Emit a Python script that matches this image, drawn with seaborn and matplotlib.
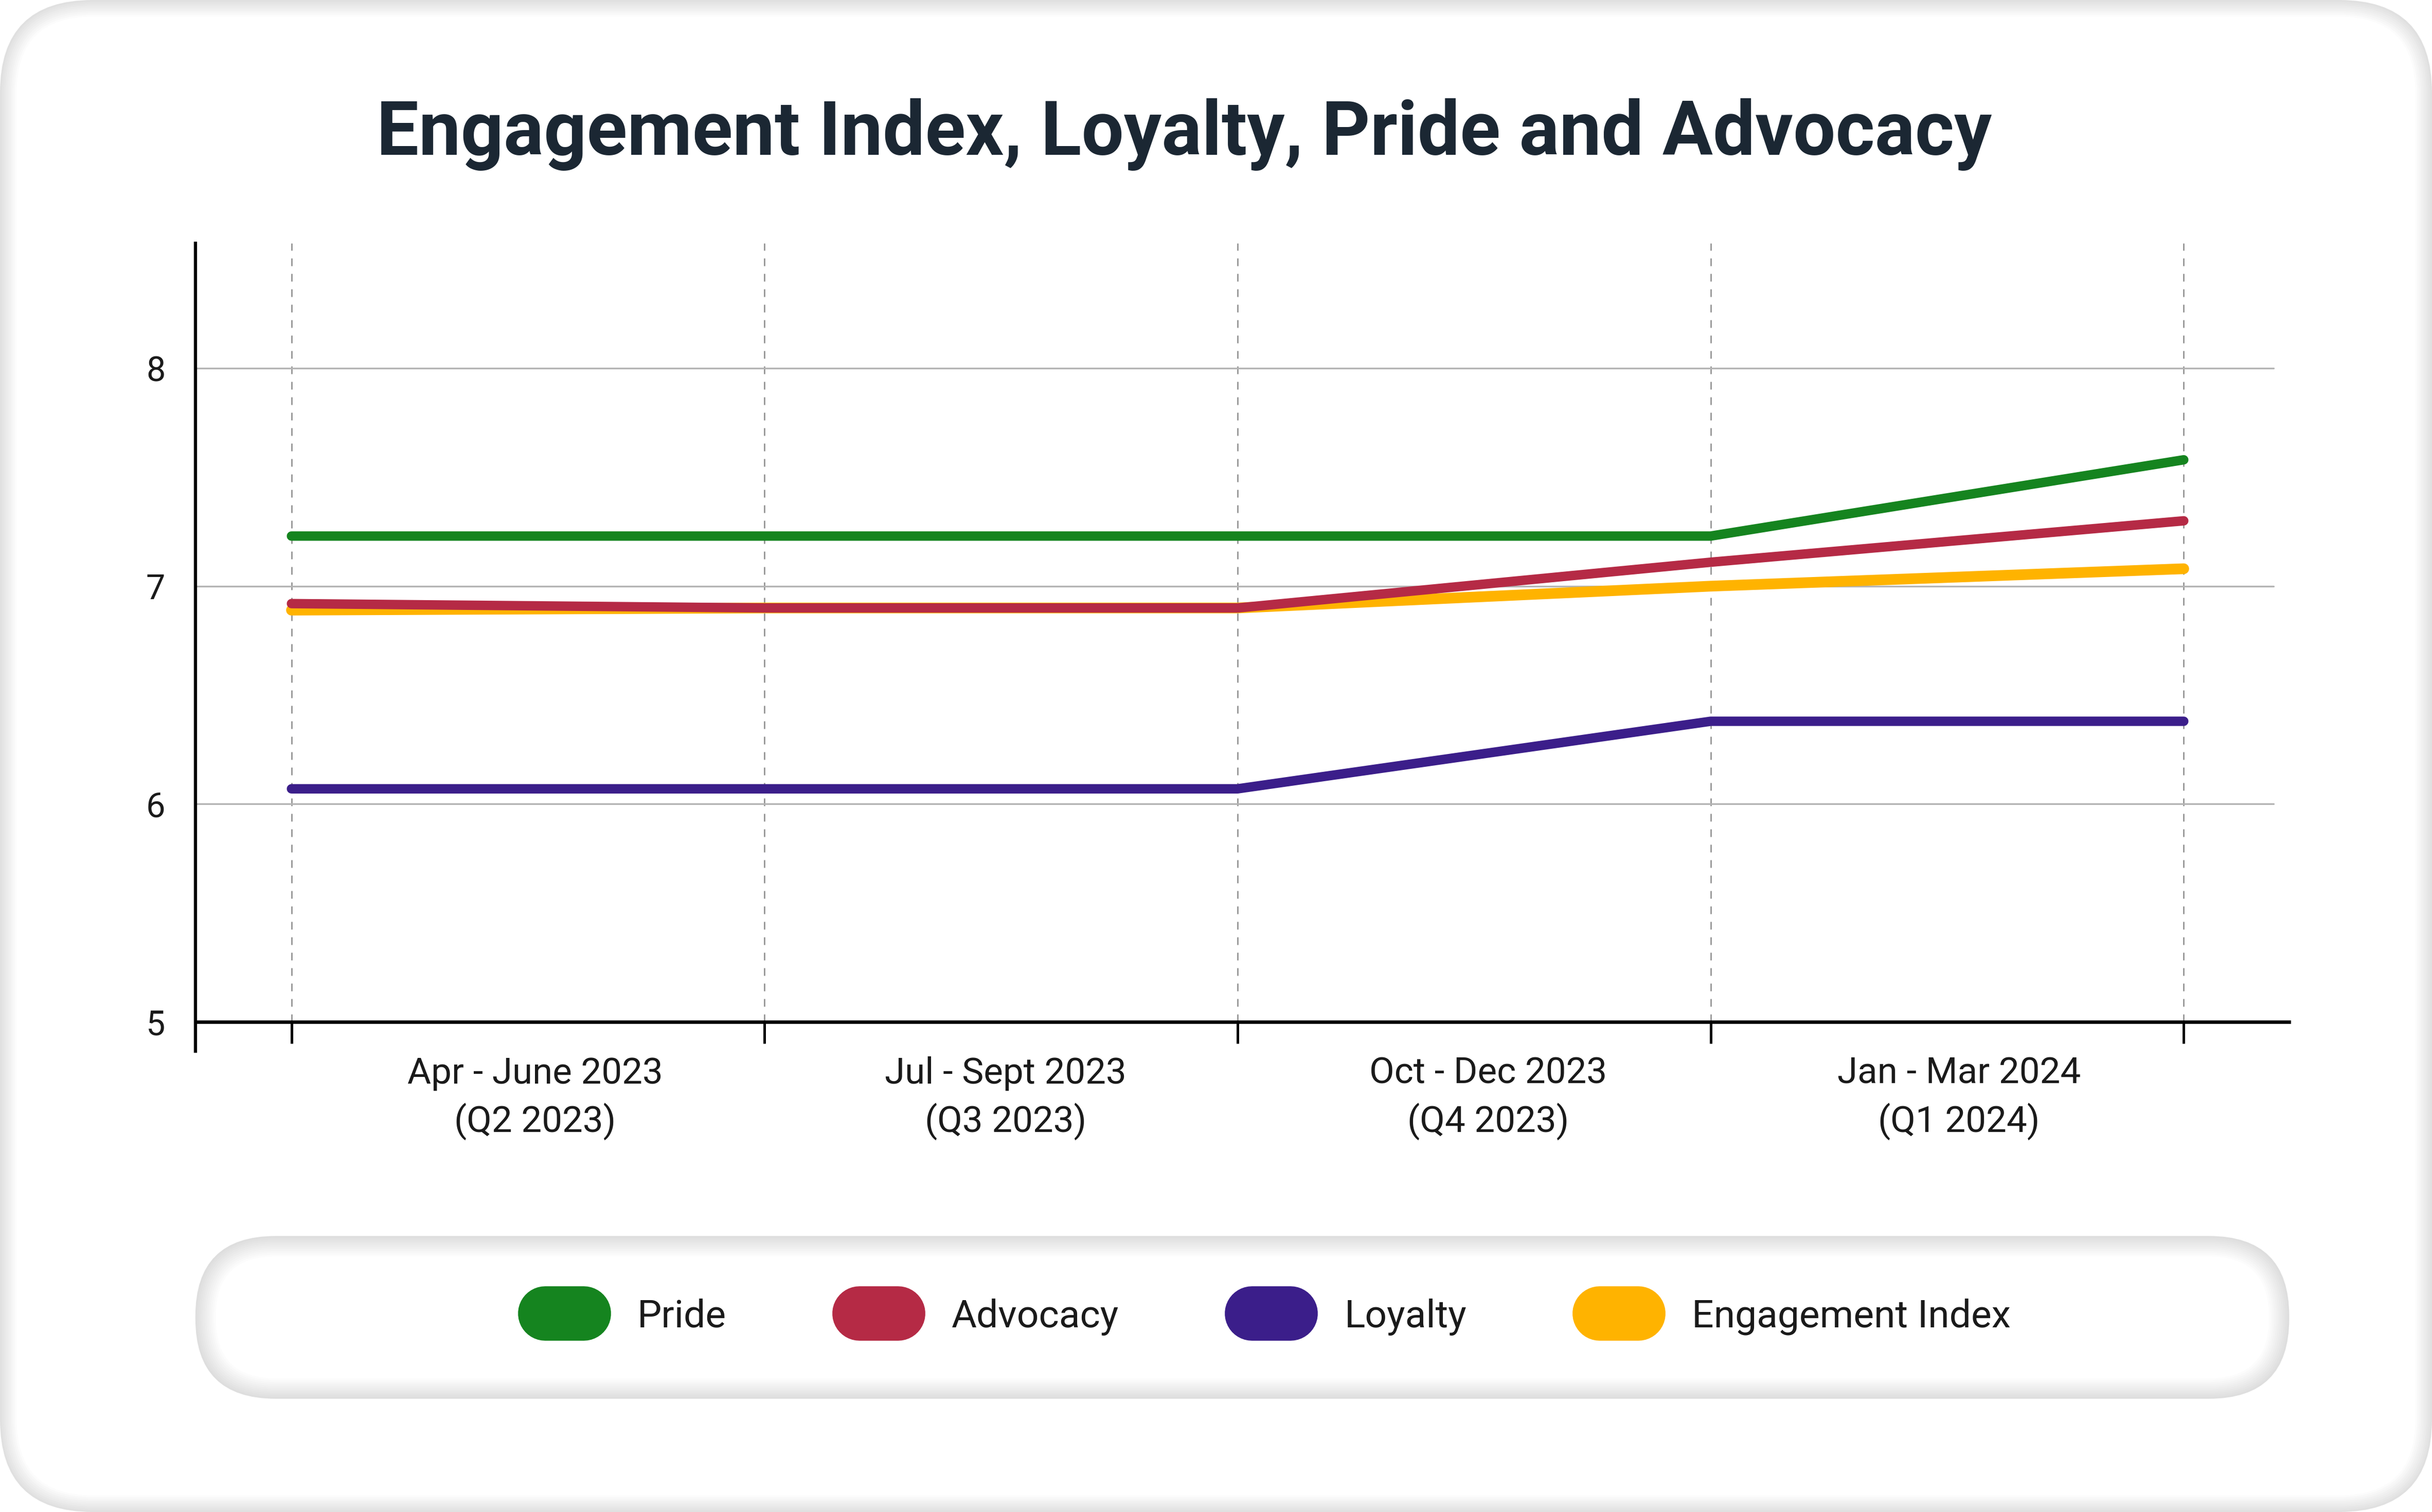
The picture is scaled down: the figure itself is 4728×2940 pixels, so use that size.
import numpy as np
import pandas as pd
import seaborn as sns
import matplotlib.pyplot as plt
from matplotlib.patches import FancyBboxPatch
from matplotlib.lines import Line2D

# data (5 points, labels sit between ticks)
points = [0, 1, 2, 3, 4]
quarter_labels = ["Apr - June 2023\n(Q2 2023)", "Jul - Sept 2023\n(Q3 2023)",
                  "Oct - Dec 2023\n(Q4 2023)", "Jan - Mar 2024\n(Q1 2024)"]
pride = [7.23, 7.23, 7.23, 7.23, 7.58]
advocacy = [6.92, 6.90, 6.90, 7.11, 7.30]
loyalty = [6.07, 6.07, 6.07, 6.38, 6.38]
engagement = [6.89, 6.90, 6.90, 7.00, 7.08]

series_names = ["Pride", "Advocacy", "Loyalty", "Engagement Index"]
series_colors = ["#15841f", "#b52a45", "#3b1e8a", "#ffb300"]
draw_order = ["Engagement Index", "Loyalty", "Advocacy", "Pride"]

df = pd.DataFrame({
    "point": points * 4,
    "score": pride + advocacy + loyalty + engagement,
    "series": sum([[n] * len(points) for n in series_names], []),
})
palette = dict(zip(series_names, series_colors))

sns.set_style("white")
plt.rcParams["font.family"] = ["Roboto", "DejaVu Sans"]

W, H = 15.76, 9.8
fig = plt.figure(figsize=(W, H), dpi=300, facecolor="white")


def soft_box(x0, y0, w, h, r, edge, steps, step, z):
    # rounded box with a soft grey rim fading to white
    for i, c in enumerate(np.linspace(0, 1, steps)):
        g = edge + (1 - edge) * c
        d = i * step
        fig.patches.append(FancyBboxPatch(
            (x0 + d, y0 + d), w - 2 * d, h - 2 * d,
            boxstyle=f"round,pad=0,rounding_size={max(r - d, 0.01)}",
            transform=fig.dpi_scale_trans, facecolor=(g, g, g),
            edgecolor="none", zorder=z + i * 0.01))


# card background and legend pill
soft_box(0.0, 0.0, W, H, 0.6, 0.88, 10, 0.012, -10)
soft_box(1.266, 0.734, 13.569, 1.055, 0.52, 0.87, 12, 0.012, -5)

ax = fig.add_axes([0.0803, 0.3241, 0.861, 0.5149])
ax.set_facecolor("none")

sns.lineplot(data=df, x="point", y="score", hue="series", hue_order=draw_order,
             palette=palette, linewidth=4.4, legend=False, sort=False, ax=ax)
for line in ax.lines:
    line.set_solid_capstyle("round")
    line.set_zorder(3)
ax.lines[0].set_linewidth(5.0)

ax.set_xlim(-0.2033, 4.223)
ax.set_ylim(5, 8.573)

ax.set_xticks(points)
ax.set_xticklabels([])
ax.set_xticks([0.515, 1.51, 2.53, 3.525], minor=True)
ax.set_xticklabels(quarter_labels, minor=True, fontsize=17, color="#1a1a1a", linespacing=1.42)
ax.tick_params(axis="x", which="major", bottom=True, length=10, width=1.2,
               color="black", direction="out")
ax.tick_params(axis="x", which="minor", bottom=True, length=0, pad=16)

ax.set_yticks([5, 6, 7, 8])
ax.set_yticklabels(["5", "6", "7", "8"], fontsize=16, color="#1a1a1a")
ax.tick_params(axis="y", length=0, pad=14)

# horizontal grid stops a little short of the axis end, as in the original
for yv in [6, 7, 8]:
    ax.plot([-0.2033, 4.19], [yv, yv], color="#b4b4b4", linewidth=0.8, zorder=1)
ax.xaxis.grid(True, which="major", color="#8a8a8a", linewidth=0.6, linestyle=(0, (6, 6)))
ax.set_axisbelow(True)

for s in ["top", "right"]:
    ax.spines[s].set_visible(False)
ax.spines["left"].set_linewidth(1.5)
ax.spines["bottom"].set_linewidth(1.6)
ax.spines["left"].set_color("black")
ax.spines["bottom"].set_color("black")
ax.spines["left"].set_bounds(4.865, 8.573)
ax.set_xlabel("")
ax.set_ylabel("")

fig.text(0.487, 0.911, "Engagement Index, Loyalty, Pride and Advocacy",
         ha="center", va="center", fontsize=35, fontweight="bold", color="#1b2733")

handles = [Line2D([0], [0], color=c, linewidth=25.4, solid_capstyle="round")
           for c in series_colors]
fig.legend(handles, series_names, loc="center", bbox_to_anchor=(0.5255, 0.129),
           ncol=4, frameon=False, fontsize=18, handlelength=1.0,
           handletextpad=1.39, columnspacing=3.45, labelcolor="#1a1a1a")

fig.savefig("out.png", dpi=300, facecolor="white")
plt.close(fig)
